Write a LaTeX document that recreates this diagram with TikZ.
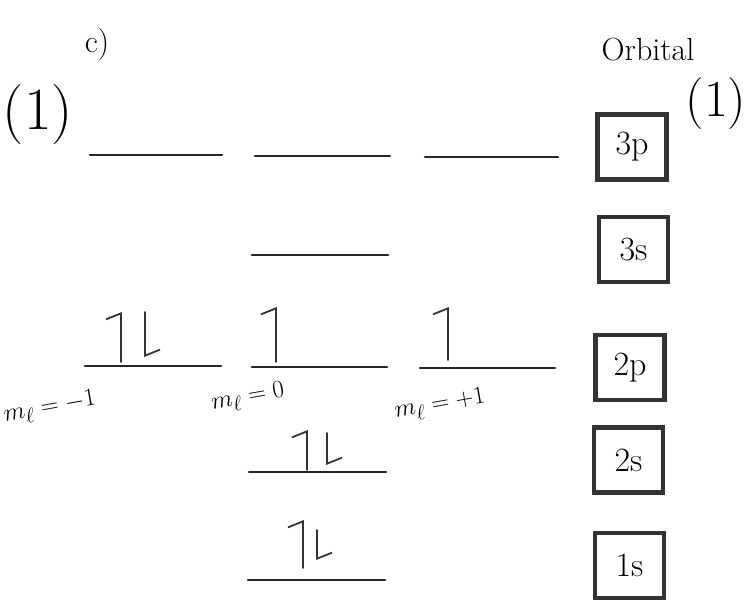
\documentclass[tikz,border=0pt]{standalone}
\usepackage{amsmath}
\usepackage{tikz}
\usetikzlibrary{arrows.meta,positioning}

\begin{document}
\begin{tikzpicture}[x=1pt,y=-1pt,line cap=round]
        \tikzstyle{level}=[line width=2.6pt,draw=black!85]
        \tikzstyle{orbbox}=[draw=black!80,line width=4.5pt,minimum width=69pt,minimum height=65pt,font=\fontsize{34}{38}\selectfont]
        \tikzstyle{spin}=[line width=1.8pt,draw=black!80,-{Straight Barb[left,length=6pt,width=30pt]}]
        \tikzstyle{hand}=[font=\fontsize{28}{32}\selectfont,rotate=10]
        \useasboundingbox (0,0) rectangle (747,607);
        % titles
        \node[font=\fontsize{32}{36}\selectfont] (part) at (97,45) {c)};
        \node[font=\fontsize{32}{36}\selectfont] (title) at (648,50) {Orbital};
        \node[font=\fontsize{60}{60}\selectfont] (markL) at (38,115) {(1)};
        \node[font=\fontsize{52}{52}\selectfont] (markR) at (716,104) {(1)};
        % energy levels
        \draw[level] (90,155) -- (222,155);
        \draw[level] (255,156) -- (390,156);
        \draw[level] (425,157) -- (558,157);
        \draw[level] (252,255) -- (388,255);
        \draw[level] (85,366) -- (221,366);
        \draw[level] (252,367) -- (387,367);
        \draw[level] (420,368) -- (555,368);
        \draw[level] (249,472) -- (386,472);
        \draw[level] (248,580) -- (385,580);
        % electrons
        \draw[spin] (121,362) -- (121,312);
        \draw[spin] (145,312) -- (145,357);
        \draw[spin] (276,362) -- (276,307);
        \draw[spin] (448,360) -- (448,307);
        \draw[spin] (307,470) -- (307,430);
        \draw[spin] (327,433) -- (327,465);
        \draw[spin] (303,568) -- (303,520);
        \draw[spin] (317,530) -- (317,560);
        % m_l labels
        \node[hand] (ml1) at (50,408) {$m_\ell=-1$};
        \node[hand] (ml2) at (248,398) {$m_\ell=0$};
        \node[hand] (ml3) at (440,405) {$m_\ell=+1$};
        % orbital boxes
        \node[orbbox] (b3p) at (632,147) {3p};
        \node[orbbox] (b3s) at (633.5,249.5) {3s};
        \node[orbbox] (b2p) at (630,367.5) {2p};
        \node[orbbox] (b2s) at (628.5,460) {2s};
        \node[orbbox] (b1s) at (629.5,565.5) {1s};
    \end{tikzpicture}
\end{document}
